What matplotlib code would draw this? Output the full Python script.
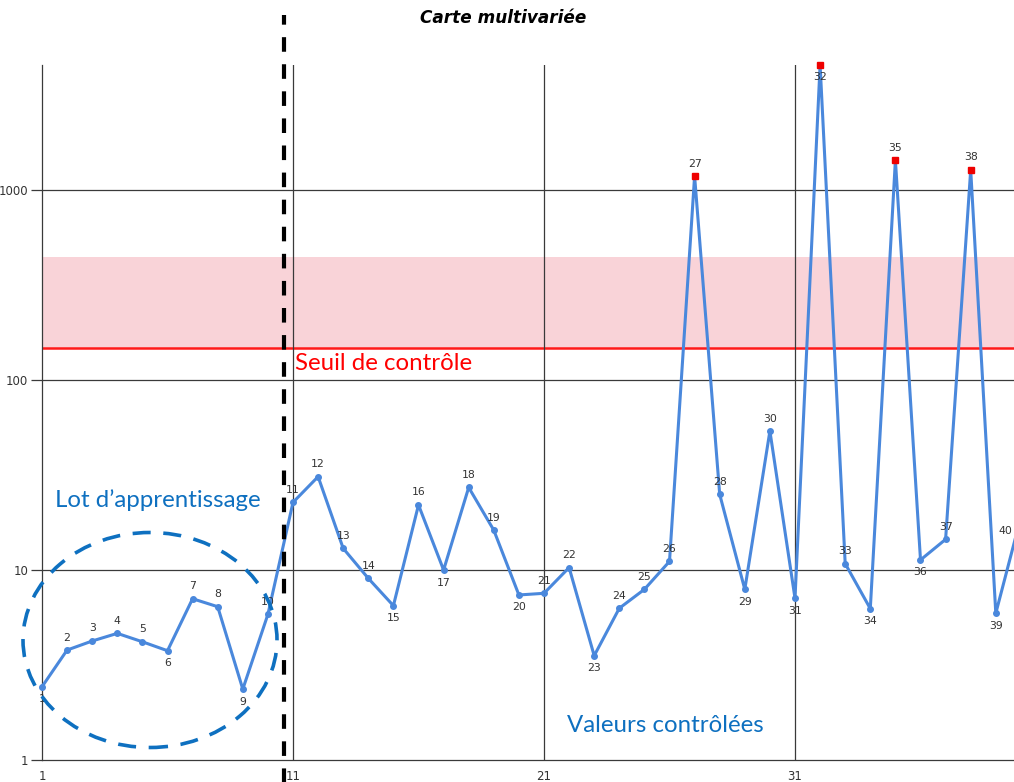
import matplotlib.pyplot as plt
import numpy as np
from matplotlib.patches import Ellipse

# valeurs de la carte multivariée (échelle log)
obs = np.arange(1, 41)
valeurs = [2.43, 3.79, 4.23, 4.64, 4.19, 3.76, 7.06, 6.41, 2.36, 5.84,
           22.7, 31.0, 13.0, 9.04, 6.49, 22.0, 10.0, 27.2, 16.2, 7.39,
           7.54, 10.3, 3.54, 6.29, 7.91, 11.1, 1185, 25.0, 7.91, 53.9,
           7.10, 4550, 10.8, 6.26, 1438, 11.3, 14.5, 1275, 5.92, 19.0]
seuil = 147
bande_haut = 446
# étiquettes placées sous le point
dessous = [1, 6, 9, 15, 17, 20, 23, 29, 31, 32, 34, 36, 39]
xticks = [1, 11, 21, 31]
yticks = [1, 10, 100, 1000]

bleu = '#4a88dc'
bleu_txt = '#0e70c0'
gris = '#3a3a3a'

fig = plt.figure(figsize=(10.14, 7.82), dpi=100)
ax = fig.add_axes([42 / 1014, 22 / 782, 972 / 1014, 695 / 782])
ax.set_yscale('log')
ax.set_xlim(1, 1 + 972 / 25.1)
ax.set_ylim(1, 4550)

# bande d'alerte et seuil
ax.axhspan(seuil, bande_haut, color='#f9d3d8', lw=0, zorder=0)
ax.axhline(seuil, color='#ff1a1a', lw=1.8, zorder=1)

# grille
for v in yticks[1:]:
    ax.axhline(v, color=gris, lw=0.9, zorder=1)
for v in xticks[1:]:
    ax.axvline(v, color=gris, lw=0.9, zorder=1)

ax.plot(obs, valeurs, color=bleu, lw=2.2, marker='o', markersize=4,
        zorder=3, clip_on=False)
hors = [(x, v) for x, v in zip(obs, valeurs) if v > seuil]
ax.plot([h[0] for h in hors], [h[1] for h in hors], 's', color='#ee0000',
        markersize=5, zorder=4, clip_on=False)

for x, v in zip(obs, valeurs):
    dx, dy = 0, (-9 if x in dessous else 9)
    if x == obs[-1]:
        # dernier point hors du cadre : étiquette ramenée vers l'intérieur
        dx, dy = -11, -10
    ax.annotate(str(x), (x, v), xytext=(dx, dy), textcoords='offset points',
                ha='center', va='center', fontsize=7.8, color='#333333',
                zorder=5, annotation_clip=False)

for s in ['top', 'right']:
    ax.spines[s].set_visible(False)
for s in ['left', 'bottom']:
    ax.spines[s].set_color(gris)
    ax.spines[s].set_linewidth(0.9)

ax.set_xticks(xticks)
ax.set_xticklabels([str(t) for t in xticks])
ax.set_yticks(yticks)
ax.set_yticklabels([str(t) for t in yticks])
ax.yaxis.set_minor_locator(plt.NullLocator())
ax.tick_params(axis='x', length=0, pad=7, labelsize=8.5, labelcolor='#333333')
ax.tick_params(axis='y', length=8, width=0.9, color=gris, pad=2,
               labelsize=8.5, labelcolor='#333333')

# séparation lot d'apprentissage / valeurs contrôlées
ax.plot([1 + (284 - 42) / 25.1] * 2, [-0.04, 1.072], color='black', lw=3,
        linestyle=(0, (3.5, 3)), transform=ax.get_xaxis_transform(),
        clip_on=False, zorder=6)

fig.patches.append(Ellipse((150 / 1014, 1 - 640 / 782), 254 / 1014, 215 / 782,
                           transform=fig.transFigure, fill=False,
                           edgecolor=bleu_txt, lw=2.6,
                           linestyle=(0, (5, 3.5)), zorder=7))

fig.text(158 / 1014, 1 - 500 / 782, 'Lot d\u2019apprentissage', ha='center',
         va='center', fontsize=17.3, color=bleu_txt, family='Lato')
fig.text(665 / 1014, 1 - 725 / 782, 'Valeurs contrôlées', ha='center',
         va='center', fontsize=17.3, color=bleu_txt, family='Lato')
fig.text(295 / 1014, 1 - 364 / 782, 'Seuil de contrôle', ha='left',
         va='center', fontsize=17.3, color='#ff0000', family='Lato')

fig.text(503 / 1014, 1 - 18 / 782, 'Carte multivariée', ha='center',
         va='center', fontsize=12.2, fontweight='bold', fontstyle='italic')

fig.savefig('out.png', dpi=100)
